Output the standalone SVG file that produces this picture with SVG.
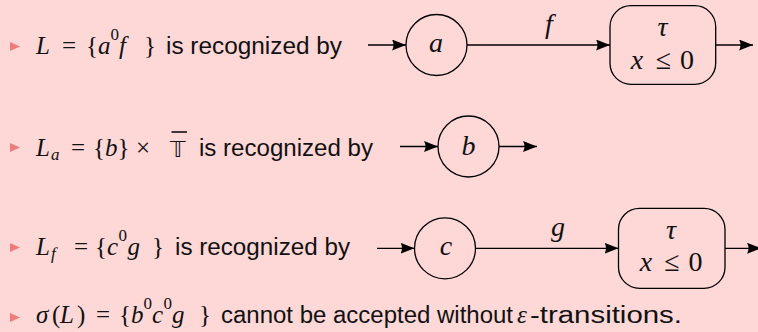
<svg xmlns="http://www.w3.org/2000/svg" width="758" height="332" viewBox="0 0 758 332">
  <defs>
    <marker id="arrow" markerUnits="userSpaceOnUse" markerWidth="16" markerHeight="12" refX="14" refY="5.5" orient="auto">
      <path d="M0,0 L14,5.5 L0,11 Q3,5.5 0,0 z" fill="#000"/>
    </marker>
    <polygon id="bullet" points="0,-4.5 10,0 0,4.5" fill="#f07b7b"/>
  </defs>
  <style>
    .sans { font-family: "Liberation Sans", Arial, sans-serif; font-size: 23.5px; fill: #111; }
    .math { font-family: "Liberation Serif", "DejaVu Serif", serif; font-size: 25px; fill: #111; }
    .mi { font-style: italic; }
    .sm { font-size: 17px; }
    .node { fill: none; stroke: #000; stroke-width: 1.3; }
    .edge { fill: none; stroke: #000; stroke-width: 1.3; marker-end: url(#arrow); }
    .lbl { font-family: "Liberation Serif", "DejaVu Serif", serif; font-size: 28px; fill: #111; text-anchor: middle; }
  </style>

  <rect width="758" height="332" fill="#fed7d7"/>

  <!-- bullet items -->
  <g id="items">
    <use href="#bullet" x="10" y="46.5"/>
    <text class="math" y="54">
      <tspan class="mi" x="36">L</tspan><tspan x="62">=</tspan><tspan x="86">{</tspan><tspan class="mi" x="98">a</tspan><tspan class="sm" x="110.5" y="40">0</tspan><tspan class="mi" x="119" y="54">f</tspan><tspan x="144">}</tspan>
    </text>
    <text class="sans" x="166" y="54" textLength="176" lengthAdjust="spacingAndGlyphs">is recognized by</text>

    <use href="#bullet" x="10" y="147.5"/>
    <text class="math" y="156">
      <tspan class="mi" x="36">L</tspan><tspan class="mi sm" x="51" y="160">a</tspan><tspan x="71" y="156">=</tspan><tspan x="93">{</tspan><tspan class="mi" x="105">b</tspan><tspan x="117.5">}</tspan><tspan x="136">×</tspan>
    </text>
    <text x="170" y="156.5" style="font-family: 'DejaVu Sans', 'DejaVu Serif', sans-serif; font-size: 22px; fill: #111;">𝕋</text>
    <line x1="171.5" y1="132" x2="187" y2="132" stroke="#111" stroke-width="1.6"/>
    <text class="sans" x="199" y="156" textLength="174" lengthAdjust="spacingAndGlyphs">is recognized by</text>

    <use href="#bullet" x="10" y="247.5"/>
    <text class="math" y="255">
      <tspan class="mi" x="36">L</tspan><tspan class="mi sm" x="51" y="259">f</tspan><tspan x="74" y="255">=</tspan><tspan x="95">{</tspan><tspan class="mi" x="107">c</tspan><tspan class="sm" x="118.5" y="241">0</tspan><tspan class="mi" x="127.5" y="255">g</tspan><tspan x="152">}</tspan>
    </text>
    <text class="sans" x="175" y="255" textLength="175" lengthAdjust="spacingAndGlyphs">is recognized by</text>

    <use href="#bullet" x="10" y="317.5"/>
    <text class="math" y="323">
      <tspan class="mi" x="36">σ</tspan><tspan x="52">(</tspan><tspan class="mi" x="60">L</tspan><tspan x="77">)</tspan><tspan x="96">=</tspan><tspan x="119">{</tspan><tspan class="mi" x="131">b</tspan><tspan class="sm" x="143.5" y="309">0</tspan><tspan class="mi" x="152" y="323">c</tspan><tspan class="sm" x="163.5" y="309">0</tspan><tspan class="mi" x="172" y="323">g</tspan><tspan x="199">}</tspan>
    </text>
    <text class="sans" x="221" y="323" textLength="292" lengthAdjust="spacingAndGlyphs">cannot be accepted without</text>
    <text class="math mi" x="517" y="323">ε</text>
    <text class="sans" x="530" y="323" textLength="152" lengthAdjust="spacingAndGlyphs">-transitions.</text>
  </g>

  <!-- automaton for L -->
  <g id="node-a">
    <circle class="node" cx="436.5" cy="45" r="30.5"/>
    <text class="lbl mi" x="436" y="52">a</text>
  </g>
  <g id="node-a-final">
    <rect class="node" x="610" y="5.7" width="105.7" height="78.6" rx="21" ry="21"/>
    <text class="lbl mi" x="662.5" y="36">τ</text>
    <text class="lbl" y="69"><tspan class="mi" x="637">x</tspan><tspan x="663.5">≤</tspan><tspan x="687">0</tspan></text>
  </g>

  <!-- automaton for L_a -->
  <g id="node-b">
    <circle class="node" cx="468.5" cy="146.5" r="30.5"/>
    <text class="lbl mi" x="468.5" y="155">b</text>
  </g>

  <!-- automaton for L_f -->
  <g id="node-c">
    <circle class="node" cx="445" cy="248.3" r="30.5"/>
    <text class="lbl mi" x="446" y="255">c</text>
  </g>
  <g id="node-c-final">
    <rect class="node" x="618.5" y="208.3" width="106.5" height="80" rx="21" ry="21"/>
    <text class="lbl mi" x="671" y="239">τ</text>
    <text class="lbl" y="271"><tspan class="mi" x="646">x</tspan><tspan x="672">≤</tspan><tspan x="695.5">0</tspan></text>
  </g>

  <g id="connectors">
    <line class="edge" x1="368" y1="45" x2="406" y2="45"/>
    <line class="edge" x1="467" y1="45" x2="610" y2="45"/>
    <text class="lbl mi" x="549" y="33">f</text>
    <line class="edge" x1="715.7" y1="45" x2="753" y2="45"/>

    <line class="edge" x1="400" y1="146.5" x2="438" y2="146.5"/>
    <line class="edge" x1="499" y1="146.5" x2="537" y2="146.5"/>

    <line class="edge" x1="377" y1="248.3" x2="414.5" y2="248.3"/>
    <line class="edge" x1="475.5" y1="248.3" x2="618.5" y2="248.3"/>
    <text class="lbl mi" x="558" y="236">g</text>
    <line class="edge" x1="725" y1="248.3" x2="761" y2="248.3"/>
  </g>
</svg>
